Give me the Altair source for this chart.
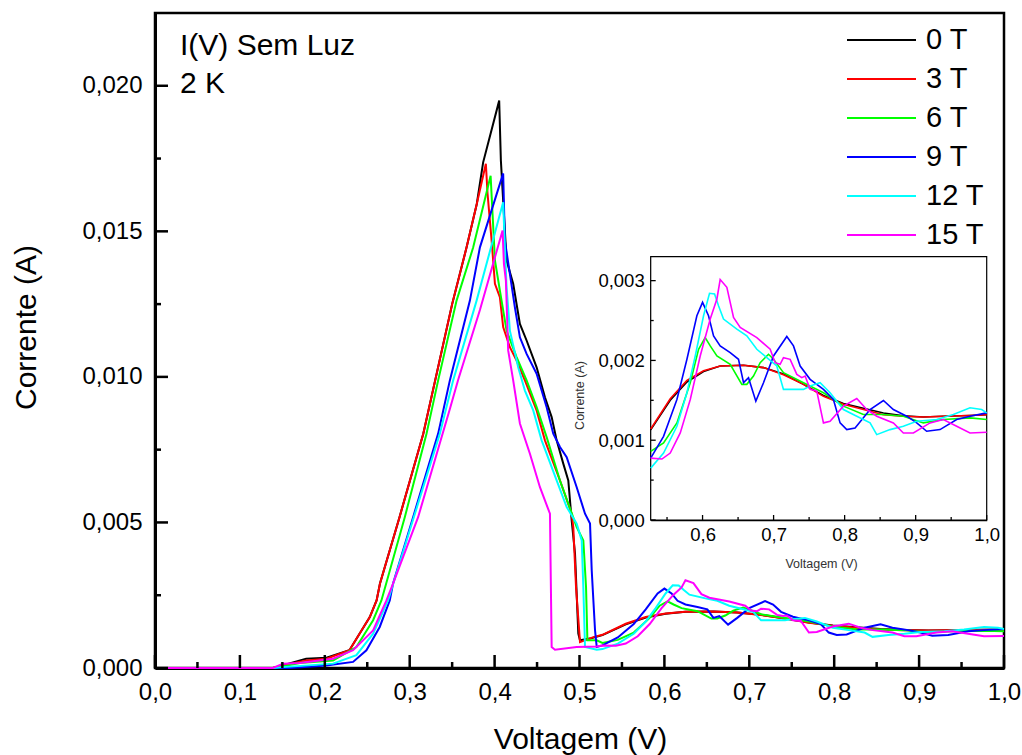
import altair as alt
import pandas as pd

# ---------------- data ----------------
series = ["0 T", "3 T", "6 T", "9 T", "12 T", "15 T"]
colors = ["#000000", "#FF0000", "#00FF00", "#0000FF", "#00FFFF", "#FF00FF"]

v_0t = [0.000, 0.139, 0.151, 0.178, 0.202, 0.229, 0.253, 0.261, 0.265, 0.288, 0.316, 0.330, 0.350, 0.367,
        0.379, 0.3865, 0.4054, 0.4074, 0.4141, 0.4219, 0.4298, 0.4377, 0.4495, 0.4593, 0.4672, 0.4731,
        0.4809, 0.4868, 0.4908, 0.4947, 0.4986, 0.5006, 0.5124, 0.527, 0.5545, 0.578, 0.6014, 0.6248,
        0.6577, 0.6858, 0.7139, 0.7421, 0.7702, 0.7983, 0.8264, 0.8546, 0.8827, 0.9108, 0.939, 0.9765, 1.0]
i_0t_ma = [0, 0, 0.10, 0.32, 0.35, 0.61, 1.75, 2.32, 2.90, 5.18, 8.05, 9.88, 12.5, 14.45, 15.94, 17.37,
           19.49, 17.43, 14.0, 13.2, 11.82, 11.25, 10.33, 9.30, 8.62, 7.82, 7.02, 6.44, 5.07, 3.93, 1.18,
           0.95, 1.01, 1.13, 1.50, 1.73, 1.86, 1.93, 1.94, 1.91, 1.83, 1.70, 1.56, 1.46, 1.40, 1.34, 1.305,
           1.29, 1.30, 1.31, 1.32]

v_3t = [0.000, 0.139, 0.151, 0.178, 0.202, 0.229, 0.253, 0.261, 0.265, 0.288, 0.316, 0.330, 0.350, 0.367,
        0.379, 0.3897, 0.3917, 0.3965, 0.4004, 0.4062, 0.4101, 0.4180, 0.4259, 0.4357, 0.4495, 0.4593,
        0.4770, 0.4908, 0.4927, 0.4959, 0.5006, 0.5163, 0.527, 0.5545, 0.578, 0.6014, 0.6248, 0.6577,
        0.6858, 0.7139, 0.7421, 0.7702, 0.7983, 0.8264, 0.8546, 0.8827, 0.9108, 0.939, 0.9765, 1.0]
i_3t_ma = [0, 0, 0.09, 0.26, 0.32, 0.61, 1.75, 2.32, 2.90, 5.18, 8.05, 9.88, 12.5, 14.45, 15.94, 17.32,
           16.29, 14.68, 13.2, 12.74, 11.71, 11.02, 10.56, 9.88, 8.85, 7.82, 6.44, 5.30, 4.84, 2.78, 0.89,
           1.06, 1.14, 1.52, 1.75, 1.87, 1.93, 1.94, 1.91, 1.82, 1.70, 1.55, 1.45, 1.385, 1.32, 1.30, 1.29,
           1.30, 1.31, 1.32]

v_6t = [0.000, 0.140, 0.1468, 0.1704, 0.2097, 0.2372, 0.2569, 0.2667, 0.2942, 0.3198, 0.3335, 0.3552,
        0.3748, 0.3953, 0.4004, 0.4062, 0.4141, 0.4259, 0.4377, 0.4495, 0.4613, 0.4770, 0.4967, 0.5045,
        0.5077, 0.5093, 0.5203, 0.527, 0.5451, 0.5639, 0.5827, 0.5944, 0.6037, 0.6108, 0.6202, 0.6389,
        0.6553, 0.6623, 0.6717, 0.6811, 0.6928, 0.6999, 0.7139, 0.7421, 0.7702, 0.7983, 0.8264, 0.8546,
        0.8827, 0.9108, 0.939, 0.9765, 1.0]
i_6t_ma = [0, 0, 0.03, 0.17, 0.26, 0.72, 1.64, 2.32, 5.18, 8.05, 9.88, 12.62, 14.45, 16.91, 14.0, 12.97,
           11.59, 10.68, 9.88, 8.96, 7.93, 6.44, 4.84, 4.38, 2.78, 0.95, 0.95, 0.86, 0.965, 1.217, 1.721,
           2.140, 2.287, 2.182, 2.056, 1.951, 1.700, 1.700, 1.804, 1.972, 2.077, 2.014, 1.846, 1.721, 1.595,
           1.427, 1.322, 1.322, 1.301, 1.217, 1.259, 1.280, 1.259]

v_9t = [0.000, 0.1586, 0.2019, 0.2333, 0.2490, 0.2647, 0.2765, 0.2804, 0.3040, 0.3335, 0.3473, 0.3709,
        0.3827, 0.4101, 0.4121, 0.4180, 0.4239, 0.4298, 0.4377, 0.4495, 0.4613, 0.4691, 0.4770, 0.4849,
        0.4967, 0.5065, 0.5124, 0.5144, 0.5183, 0.5203, 0.527, 0.5451, 0.5639, 0.578, 0.592, 0.600,
        0.6084, 0.6155, 0.6248, 0.6389, 0.6506, 0.6577, 0.6647, 0.675, 0.6858, 0.6999, 0.7186, 0.728,
        0.7374, 0.7514, 0.7702, 0.7842, 0.7936, 0.803, 0.8147, 0.8358, 0.8546, 0.8686, 0.8874, 0.9015,
        0.9155, 0.9343, 0.9577, 0.9765, 1.0]
i_9t_ma = [0, 0, 0.09, 0.21, 0.61, 1.41, 2.32, 2.90, 5.18, 8.05, 9.88, 12.62, 14.45, 16.99, 14.68, 13.54,
           12.39, 11.36, 10.79, 10.11, 8.96, 8.05, 7.59, 7.24, 6.21, 5.30, 4.96, 3.35, 1.29, 0.72, 0.776,
           1.049, 1.511, 2.014, 2.560, 2.728, 2.560, 2.308, 2.182, 2.098, 2.014, 1.721, 1.784, 1.490, 1.721,
           2.056, 2.300, 2.182, 1.930, 1.763, 1.637, 1.511, 1.217, 1.133, 1.154, 1.385, 1.498, 1.385, 1.301,
           1.217, 1.112, 1.133, 1.259, 1.301, 1.343]

v_12t = [0.000, 0.140, 0.1507, 0.2097, 0.2372, 0.2569, 0.2745, 0.3040, 0.3355, 0.3512, 0.3788, 0.4101,
         0.4121, 0.4141, 0.4180, 0.4278, 0.4357, 0.4455, 0.4554, 0.4849, 0.4967, 0.5026, 0.5045, 0.5065,
         0.5203, 0.527, 0.5451, 0.5639, 0.578, 0.5897, 0.6014, 0.6098, 0.6169, 0.6225, 0.6295, 0.6483,
         0.6623, 0.6764, 0.6905, 0.7045, 0.7139, 0.7233, 0.7421, 0.7514, 0.7655, 0.7795, 0.7983, 0.8171,
         0.8358, 0.8452, 0.8639, 0.8827, 0.9015, 0.9296, 0.953, 0.9765, 0.9929, 1.0]
i_12t_ma = [0, 0, 0.03, 0.15, 0.44, 1.18, 2.32, 5.10, 8.05, 9.88, 12.62, 16.0, 14.45, 13.08, 11.59, 10.33,
            9.53, 8.85, 7.82, 5.53, 4.96, 4.38, 2.78, 0.72, 0.63, 0.65, 0.839, 1.175, 1.595, 2.056, 2.560,
            2.841, 2.833, 2.686, 2.518, 2.392, 2.308, 2.140, 2.035, 1.930, 1.637, 1.637, 1.637, 1.679, 1.721,
            1.595, 1.385, 1.301, 1.217, 1.070, 1.133, 1.175, 1.238, 1.259, 1.322, 1.406, 1.385, 1.343]

v_15t = [0.000, 0.1389, 0.1507, 0.1704, 0.2097, 0.2333, 0.2569, 0.2726, 0.2804, 0.3099, 0.3473, 0.3571,
         0.3827, 0.4094, 0.4110, 0.4133, 0.4160, 0.4219, 0.4298, 0.4416, 0.4534, 0.4652, 0.4672, 0.4711,
         0.4967, 0.5203, 0.527, 0.5428, 0.5545, 0.5686, 0.5827, 0.5967, 0.6108, 0.6202, 0.6248, 0.6342,
         0.6436, 0.653, 0.6764, 0.6952, 0.7022, 0.7092, 0.7139, 0.7233, 0.7327, 0.7397, 0.7444, 0.7514,
         0.7608, 0.7702, 0.7795, 0.7983, 0.8171, 0.8311, 0.8452, 0.8686, 0.8827, 0.8968, 0.9202, 0.939,
         0.9577, 0.9765, 1.0]
i_15t_ma = [0, 0, 0.15, 0.17, 0.32, 0.61, 1.29, 2.32, 2.90, 5.18, 8.9, 9.9, 12.3, 15.03, 13.88, 13.31,
            10.91, 9.88, 8.4, 7.36, 6.21, 5.30, 0.72, 0.63, 0.72, 0.74, 0.776, 0.764, 0.839, 1.091, 1.511,
            2.056, 2.518, 2.770, 3.013, 2.917, 2.539, 2.413, 2.287, 2.140, 1.972, 1.951, 2.035, 2.014,
            1.825, 1.784, 1.804, 1.637, 1.616, 1.217, 1.238, 1.427, 1.523, 1.385, 1.301, 1.217, 1.091,
            1.091, 1.217, 1.259, 1.175, 1.091, 1.099]

# tick values / labels
x_major = [0.0, 0.1, 0.2, 0.3, 0.4, 0.5, 0.6, 0.7, 0.8, 0.9, 1.0]
x_minor = [0.05, 0.15, 0.25, 0.35, 0.45, 0.55, 0.65, 0.75, 0.85, 0.95]
y_major = [0.0, 0.005, 0.010, 0.015, 0.020]
y_minor = [0.0025, 0.0075, 0.0125, 0.0175]
ix_major = [0.6, 0.7, 0.8, 0.9, 1.0]
ix_minor = [0.55, 0.65, 0.75, 0.85, 0.95]
iy_major = [0.0, 0.001, 0.002, 0.003]
iy_minor = [0.0005, 0.0015, 0.0025]
annotation = ["I(V) Sem Luz", "2 K"]

x_domain = [0.0, 1.0]
y_domain = [0.0, 0.0225]
inset_x_domain = [0.527, 1.0]
inset_y_domain = [0.0, 0.0033]

# ---------------- build tables ----------------
vs = [v_0t, v_3t, v_6t, v_9t, v_12t, v_15t]
ims = [i_0t_ma, i_3t_ma, i_6t_ma, i_9t_ma, i_12t_ma, i_15t_ma]
rows = []
for s, vv, ii in zip(series, vs, ims):
    for k, (v, i) in enumerate(zip(vv, ii)):
        rows.append({"serie": s, "V": v, "I": i / 1000.0, "k": k})
df = pd.DataFrame(rows)
df_inset = df[df["V"] >= inset_x_domain[0] - 1e-9].reset_index(drop=True)

W, H = 849, 655
FONT = "Liberation Sans"

# inset placement (pixels inside plot area)
IX0, IX1 = 495.7, 831.7
IY0, IY1 = 507.0, 243.7

comma1 = "replace(format(datum.value, '.1f'), '.', ',')"
comma3 = "replace(format(datum.value, '.3f'), '.', ',')"

def xs():
    return alt.Scale(domain=x_domain, nice=False, zero=False)

def ys():
    return alt.Scale(domain=y_domain, nice=False, zero=False)

def ixs():
    return alt.Scale(domain=inset_x_domain, range=[IX0, IX1], nice=False, zero=False)

def iys():
    return alt.Scale(domain=inset_y_domain, range=[IY0, IY1], nice=False, zero=False)

color_scale = alt.Scale(domain=series, range=colors)

main_lines = alt.Chart(df).mark_line(strokeWidth=2).encode(
    x=alt.X("V:Q", scale=xs(), axis=alt.Axis(
        orient="bottom", values=x_major, labelExpr=comma1, title="Voltagem (V)",
        ticks=False, grid=False, domainWidth=3, domainColor="black",
        labelFontSize=24, labelFont=FONT, labelColor="black", labelPadding=12,
        titleFontSize=30, titleFont=FONT, titleFontWeight="normal", titleColor="black",
        titleX=425, titleY=80, titleBaseline="alphabetic", labelFlush=False)),
    y=alt.Y("I:Q", scale=ys(), axis=alt.Axis(
        orient="left", values=y_major, labelExpr=comma3, title="Corrente (A)",
        ticks=False, grid=False, domainWidth=3, domainColor="black",
        labelFontSize=24, labelFont=FONT, labelColor="black", labelPadding=13,
        titleFontSize=30, titleFont=FONT, titleFontWeight="normal", titleColor="black",
        titleX=-120, titleY=314, titleAngle=270, titleBaseline="alphabetic", labelFlush=False)),
    color=alt.Color("serie:N", scale=color_scale, sort=series, legend=alt.Legend(
        orient="none", legendX=732, legendY=12.5, direction="vertical", title=None,
        symbolType="M-4.36,0H1.16", symbolSize=625, symbolStrokeWidth=2,
        labelFontSize=29, labelFont=FONT, labelColor="black", labelOffset=10,
        rowPadding=9, padding=0, symbolOffset=0, labelLimit=300)),
    order=alt.Order("k:Q"),
)

def xticks(vals, length):
    return alt.Chart(pd.DataFrame({"t": vals})).mark_rule(color="black", strokeWidth=2.5).encode(
        x=alt.X("t:Q", scale=xs(), axis=None), y=alt.value(H), y2=alt.value(H - length))

def yticks(vals, length):
    return alt.Chart(pd.DataFrame({"t": vals})).mark_rule(color="black", strokeWidth=2.5).encode(
        y=alt.Y("t:Q", scale=ys(), axis=None), x=alt.value(0), x2=alt.value(length))

text = alt.Chart(pd.DataFrame({"a": [0]})).mark_text(
    text=annotation, align="left", baseline="alphabetic", fontSize=30, font=FONT,
    color="black", lineHeight=38).encode(x=alt.value(25), y=alt.value(42))

# ---------------- inset ----------------
inset_box = alt.Chart(pd.DataFrame({"x0": [inset_x_domain[0]], "x1": [inset_x_domain[1]],
                                    "y0": [inset_y_domain[0]], "y1": [inset_y_domain[1]]})
                      ).mark_rect(fill="white", stroke="black", strokeWidth=1.2).encode(
    x=alt.X("x0:Q", scale=ixs(), axis=None), x2="x1",
    y=alt.Y("y0:Q", scale=iys(), axis=None), y2="y1")

inset_lines = alt.Chart(df_inset).mark_line(strokeWidth=1.6).encode(
    x=alt.X("V:Q", scale=ixs(), axis=alt.Axis(
        orient="bottom", offset=-(H - IY0), values=ix_major, labelExpr=comma1, title="Voltagem (V)",
        ticks=False, grid=False, domainWidth=1.5, domainColor="black",
        labelFontSize=18.5, labelFont=FONT, labelColor="black", labelPadding=5,
        titleFontSize=12.5, titleFont=FONT, titleFontWeight="normal", titleColor="#333333",
        titleX=666, titleY=47, titleBaseline="alphabetic", labelFlush=False)),
    y=alt.Y("I:Q", scale=iys(), axis=alt.Axis(
        orient="left", offset=-IX0, values=iy_major, labelExpr=comma3, title="Corrente (A)",
        ticks=False, grid=False, domainWidth=1.5, domainColor="black",
        labelFontSize=18.5, labelFont=FONT, labelColor="black", labelPadding=6.5,
        titleFontSize=12.5, titleFont=FONT, titleFontWeight="normal", titleColor="#333333",
        titleX=-67, titleY=382, titleAngle=270, titleBaseline="alphabetic", labelFlush=False)),
    color=alt.Color("serie:N", scale=color_scale, sort=series, legend=None),
    order=alt.Order("k:Q"),
)

def ixticks(vals, length):
    return alt.Chart(pd.DataFrame({"t": vals})).mark_rule(color="black", strokeWidth=1.3).encode(
        x=alt.X("t:Q", scale=ixs(), axis=None), y=alt.value(IY0), y2=alt.value(IY0 - length))

def iyticks(vals, length):
    return alt.Chart(pd.DataFrame({"t": vals})).mark_rule(color="black", strokeWidth=1.3).encode(
        y=alt.Y("t:Q", scale=iys(), axis=None), x=alt.value(IX0), x2=alt.value(IX0 + length))

chart = alt.layer(
    main_lines, xticks(x_major, 13), xticks(x_minor, 6), yticks(y_major, 13), yticks(y_minor, 6), text,
    inset_box, inset_lines, ixticks(ix_major, 5), ixticks(ix_minor, 3), iyticks(iy_major, 5),
    iyticks(iy_minor, 3)
).resolve_scale(
    x="independent", y="independent"
).properties(
    width=W, height=H,
    autosize=alt.AutoSizeParams(type="none"),
    padding={"left": 155, "top": 13, "right": 1022 - 155 - W, "bottom": 755 - 13 - H},
    background="white",
).configure(
    font=FONT, view=alt.ViewConfig(stroke="black", strokeWidth=2.5)
)

chart.save("out.html", embed_options={"renderer": "svg", "actions": False})
